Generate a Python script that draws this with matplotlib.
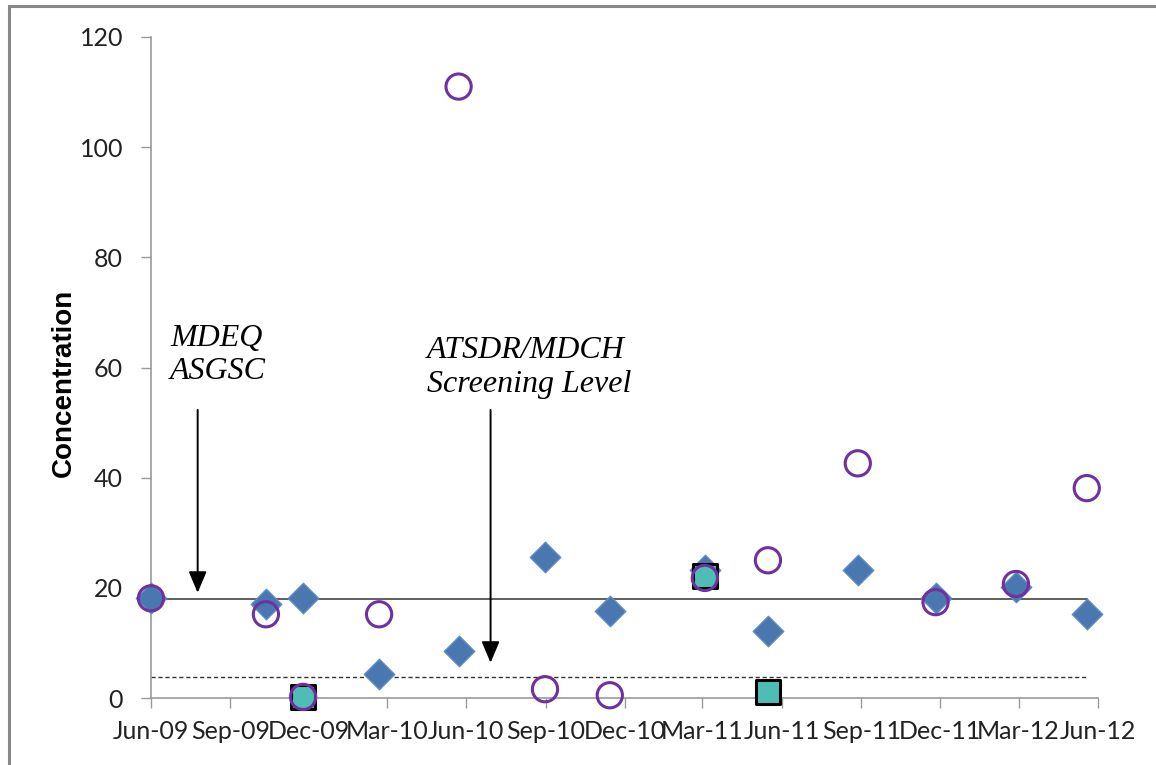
import datetime as dt
import matplotlib
matplotlib.use('Agg')
import matplotlib.pyplot as plt
import matplotlib.dates as mdates
from matplotlib.patches import Rectangle

# sample dates and concentrations
diamond_dates = ['2009-06-01', '2009-10-12', '2009-11-24', '2010-02-20', '2010-05-23',
                 '2010-08-31', '2010-11-14', '2011-03-04', '2011-05-16', '2011-08-28',
                 '2011-11-26', '2012-02-27', '2012-05-19']
diamond_vals = [18.1, 17.1, 18.1, 4.4, 8.5, 25.6, 15.8, 23.2, 12.2, 23.2, 18.1, 20.1, 15.2]

circle_dates = diamond_dates
circle_vals = [18.1, 15.2, 0.2, 15.2, 111.0, 1.6, 0.5, 21.8, 25.0, 42.6, 17.4, 20.7, 38.1]

square_dates = ['2009-11-24', '2011-03-04', '2011-05-16']
square_vals = [0.2, 22.1, 1.1]

asgsc_level = 18.0
screening_level = 3.9

tick_dates = ['2009-06-01', '2009-09-01', '2009-12-01', '2010-03-01', '2010-06-01',
              '2010-09-01', '2010-12-01', '2011-03-01', '2011-06-01', '2011-09-01',
              '2011-12-01', '2012-03-01', '2012-06-01']


def to_dates(lst):
    return [dt.datetime.strptime(s, '%Y-%m-%d') for s in lst]


d_dates = to_dates(diamond_dates)
c_dates = to_dates(circle_dates)
s_dates = to_dates(square_dates)
t_dates = to_dates(tick_dates)

fig = plt.figure(figsize=(11.56, 7.65), dpi=100)
ax = fig.add_axes([151/1156, 1-698/765, 947/1156, 661/765])

# reference levels run from first to last sample
line_x = [d_dates[0], d_dates[-1]]
ax.plot(line_x, [asgsc_level]*2, color='#333333', lw=1.1, zorder=2)
ax.plot(line_x, [screening_level]*2, color='#333333', lw=1.0, ls=(0, (3, 2)), zorder=2)

ax.scatter(d_dates, diamond_vals, marker='D', s=240, facecolor='#4A77B0',
           edgecolor='#5B8CC8', linewidths=1.0, zorder=3, clip_on=False)
ax.scatter(s_dates, square_vals, marker='s', s=300, facecolor='#4DBDB6',
           edgecolor='black', linewidths=2.2, zorder=4, clip_on=False)
ax.scatter(c_dates, circle_vals, marker='o', s=330, facecolor='none',
           edgecolor='#7030A0', linewidths=2.2, zorder=5, clip_on=False)

ax.set_xlim(t_dates[0], t_dates[-1])
ax.set_ylim(0, 120)
ax.set_yticks(range(0, 121, 20))
ax.set_xticks(t_dates)
ax.xaxis.set_major_formatter(mdates.DateFormatter('%b-%y'))

for s in ['top', 'right']:
    ax.spines[s].set_visible(False)
for s in ['left', 'bottom']:
    ax.spines[s].set_color('#999999')
    ax.spines[s].set_linewidth(1.2)

ax.tick_params(axis='y', length=7, width=1.0, color='#999999', pad=13,
               labelsize=18, labelcolor='#222222')
ax.tick_params(axis='x', length=7, width=1.0, color='#999999', pad=9,
               labelsize=18, labelcolor='#222222')
for lab in ax.get_xticklabels() + ax.get_yticklabels():
    lab.set_family('Lato')

ax.set_ylabel('Concentration', fontsize=20, fontweight='bold', family='Liberation Sans')
ax.yaxis.set_label_coords(-0.078, 0.477)

serif = dict(family='Liberation Serif', style='italic', fontsize=23, color='black')
ax.text(0.020, 0.566, 'MDEQ\nASGSC', transform=ax.transAxes, va='top', ha='left', **serif)
ax.text(0.291, 0.547, 'ATSDR/MDCH\nScreening Level', transform=ax.transAxes,
        va='top', ha='left', **serif)

arrow = dict(arrowstyle='-|>,head_length=1.3,head_width=0.55', color='black', lw=1.4)
ax.annotate('', xy=(dt.datetime(2009, 7, 25), 18.6), xytext=(dt.datetime(2009, 7, 25), 52.8),
            arrowprops=arrow)
ax.annotate('', xy=(dt.datetime(2010, 6, 29), 5.9), xytext=(dt.datetime(2010, 6, 29), 52.8),
            arrowprops=arrow)

# chart area frame (left and top edge visible)
fig.patches.append(Rectangle((9/1156, -0.1), 2.0, 1.1 - 6/765, transform=fig.transFigure,
                             fill=False, edgecolor='#888888', lw=2.2))

fig.savefig('out.png', dpi=100)
